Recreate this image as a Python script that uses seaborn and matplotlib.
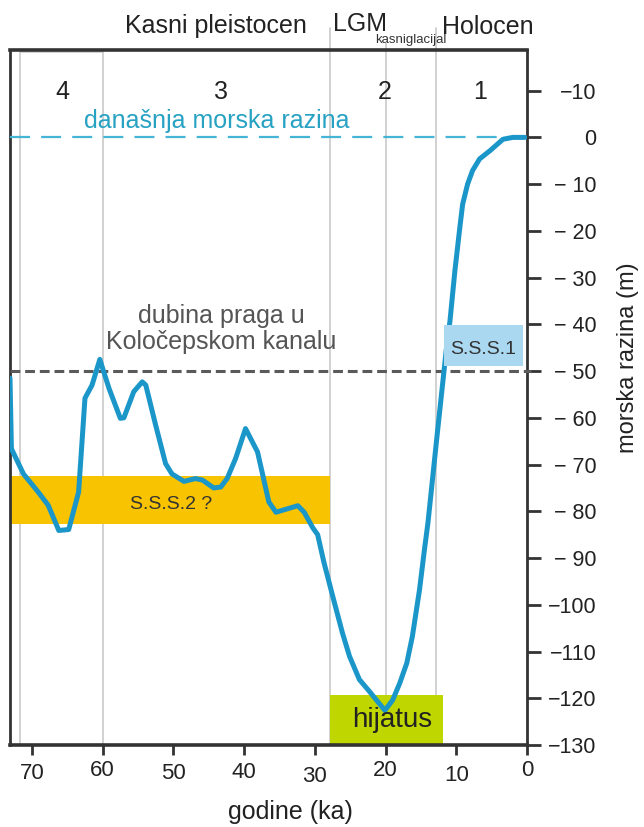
import matplotlib
matplotlib.use("Agg")
import matplotlib.pyplot as plt
from matplotlib.transforms import ScaledTranslation
import seaborn as sns
import pandas as pd

sns.set_style("white")
plt.rcParams["font.family"] = ["Liberation Sans", "DejaVu Sans"]

# Sea-level curve: age (ka) and level (m)
age_ka = [73.1, 72.9, 71.2, 69.1, 67.7, 66.2, 64.8, 63.4, 62.5, 61.5, 60.4,
          59.1, 57.5, 57.0, 55.6, 54.4, 53.9, 52.5, 51.1, 50.2, 48.5, 46.9,
          45.9, 44.3, 43.3, 42.4, 41.2, 39.8, 38.1, 36.5, 35.5, 32.4, 31.5,
          30.3, 29.6, 28.7, 27.5, 26.1, 25.1, 23.7, 22.3, 20.1, 19.0, 18.0,
          17.0, 16.2, 15.2, 14.5, 14.0, 12.8, 11.9, 11.4, 10.9, 10.2, 9.5,
          9.1, 8.4, 7.7, 6.7, 5.2, 3.4, 2.0, 0.3]
level_m = [-51.5, -66.6, -72.0, -75.9, -78.7, -84.1, -83.9, -75.9, -55.8, -53.0, -47.5,
           -53.7, -60.1, -60.0, -54.4, -52.3, -53.0, -61.6, -69.8, -72.0, -73.6, -73.0,
           -73.3, -75.0, -74.8, -73.0, -68.7, -62.3, -67.3, -78.0, -80.2, -78.8, -80.2,
           -83.5, -85.0, -91.0, -98.0, -106.0, -111.0, -116.0, -118.5, -122.6, -120.4, -116.8,
           -112.5, -106.7, -96.8, -88.2, -82.4, -65.0, -52.3, -45.2, -39.4, -28.6, -19.3,
           -14.3, -10.0, -7.1, -4.6, -2.8, -0.4, 0.0, 0.0]

# Axis ticks and labels
x_ticks = [70, 60, 50, 40, 30, 20, 10, 0]
y_ticks = [10, 0, -10, -20, -30, -40, -50, -60, -70, -80, -90, -100, -110, -120, -130]
y_tick_labels = ["\u221210", "0", "\u2212 10", "\u2212 20", "\u2212 30", "\u2212 40",
                 "\u2212 50", "\u2212 60", "\u2212 70", "\u2212 80", "\u2212 90",
                 "\u2212100", "\u2212110", "\u2212120", "\u2212130"]

# Stage boundaries (ka) and stage numbers
stage_bounds = [71.7, 60.0, 27.8, 20.0, 12.9]
stage_labels = ["4", "3", "2", "1"]
stage_label_x = [65.7, 43.2, 20.1, 6.7]

# Highlighted intervals
sss2_span = (73.1, 27.8, -82.8, -72.5)
hiatus_span = (27.8, 11.9, -130.0, -119.4)
sss1_span = (11.8, 0.6, -49.0, -40.2)
sill_depth = -50
present_level = 0

curve = pd.DataFrame({"age": age_ka, "level": level_m})

fig = plt.figure(figsize=(6.44, 8.27), dpi=100)
ax = fig.add_axes([10 / 644, 1 - 745 / 827, 517 / 644, 695 / 827])
ax.set_xlim(73.1, 0)
ax.set_ylim(-130, 18.7)

# Stage boundary lines
line_kw = dict(color="#c9c9c9", lw=1.2, zorder=1)
ax.plot([stage_bounds[0]] * 2, [-130, 18.2], **line_kw)
ax.plot([stage_bounds[1]] * 2, [-130, 18.2], **line_kw)
ax.plot([stage_bounds[0], stage_bounds[1]], [18.2, 18.2], **line_kw)
ax.plot([stage_bounds[2]] * 2, [-130, 23.4], clip_on=False, **line_kw)
ax.plot([stage_bounds[3]] * 2, [-130, 20.2], clip_on=False, **line_kw)
ax.plot([stage_bounds[4]] * 2, [-130, 23.4], clip_on=False, **line_kw)

# Shaded intervals
x0, x1, y0, y1 = sss2_span
ax.fill_between([x0, x1], y0, y1, color="#f8c300", lw=0, zorder=2)
x0, x1, y0, y1 = hiatus_span
ax.fill_between([x0, x1], y0, y1, color="#bfd600", lw=0, zorder=2)

# Reference levels
ax.plot([73.1, 0], [present_level, present_level], color="#45b5d6", lw=1.6,
        dashes=(9, 5), zorder=3)
ax.plot([73.1, -0.6], [sill_depth, sill_depth], color="#5a5a5a", lw=2.2,
        dashes=(3.2, 1.6), zorder=3, clip_on=False)

# Sea-level curve
sns.lineplot(data=curve, x="age", y="level", sort=False, estimator=None,
             color="#1b96c9", lw=3.6, ax=ax, zorder=4)

x0, x1, y0, y1 = sss1_span
ax.fill_between([x0, x1], y0, y1, color="#a9d8f0", lw=0, zorder=5)

# Text annotations
ax.text(50.3, -79.6, "S.S.S.2 ?", fontsize=14, color="#333333", ha="center",
        va="baseline", zorder=6)
ax.text(6.2, -46.4, "S.S.S.1", fontsize=14, color="#333333", ha="center",
        va="baseline", zorder=6)
ax.text(19.1, -126.2, "hijatus", fontsize=20, color="#222222", ha="center",
        va="baseline", zorder=6)
ax.text(43.8, 2.1, "današnja morska razina", fontsize=18, color="#27a2c3",
        ha="center", va="baseline", zorder=6)
ax.text(43.2, -39.7, "dubina praga u", fontsize=18, color="#555555",
        ha="center", va="baseline", zorder=6)
ax.text(43.2, -45.3, "Koločepskom kanalu", fontsize=18, color="#555555",
        ha="center", va="baseline", zorder=6)
for lab, xs in zip(stage_labels, stage_label_x):
    ax.text(xs, 8.15, lab, fontsize=18, color="#222222", ha="center",
            va="baseline", zorder=6)

# Period names above the frame
fig.text(216 / 644, 1 - 33 / 827, "Kasni pleistocen", fontsize=18,
         color="#222222", ha="center", va="baseline")
fig.text(360 / 644, 1 - 31 / 827, "LGM", fontsize=18, color="#222222",
         ha="center", va="baseline")
fig.text(411 / 644, 1 - 43 / 827, "kasniglacijal", fontsize=9.5,
         color="#333333", ha="center", va="baseline")
fig.text(488 / 644, 1 - 34 / 827, "Holocen", fontsize=18, color="#222222",
         ha="center", va="baseline")

# Axes styling
for side, lw in [("top", 2.6), ("bottom", 2.6), ("left", 2.0), ("right", 2.0)]:
    ax.spines[side].set_linewidth(lw)
    ax.spines[side].set_color("#333333")
    ax.spines[side].set_visible(True)

ax.set_xticks(x_ticks)
ax.set_xticklabels([str(t) for t in x_ticks])
ax.yaxis.tick_right()
ax.set_yticks(y_ticks)
ax.set_yticklabels(y_tick_labels)
ax.tick_params(axis="x", direction="out", length=7.5, width=2, color="#333333",
               labelsize=16, labelcolor="#222222", pad=3, bottom=True)
ax.tick_params(axis="y", direction="out", length=10, width=2, color="#333333",
               labelsize=15.5, labelcolor="#222222", pad=40, right=True, left=False)
for lbl in ax.get_yticklabels():
    lbl.set_ha("right")
x_label_drop = [3, 0, 3, 2, 6, 0, 5, 0]
for lbl, dy in zip(ax.get_xticklabels(), x_label_drop):
    lbl.set_transform(lbl.get_transform() +
                      ScaledTranslation(0, -dy / 100, fig.dpi_scale_trans))
ax.set_xlabel("")
ax.set_ylabel("")

fig.text(290 / 644, 1 - 812 / 827, "godine (ka)", fontsize=18, color="#222222",
         ha="center", va="center")
fig.text(628 / 644, 1 - 358 / 827, "morska razina (m)", fontsize=17,
         color="#222222", ha="center", va="center", rotation=90)

fig.savefig("out.png", dpi=100)
